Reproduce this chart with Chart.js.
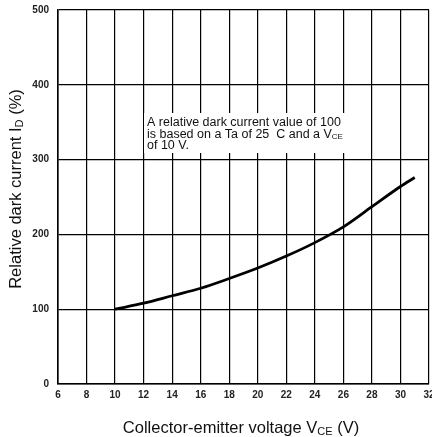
<!DOCTYPE html>
<html>
<head>
<meta charset="utf-8">
<script src="https://cdn.jsdelivr.net/npm/chart.js@4.4.1/dist/chart.umd.min.js"></script>
<style>
  html, body { margin: 0; padding: 0; background: #fff; }
  #wrap { width: 432px; height: 437px; }
</style>
</head>
<body>
<div id="wrap"><canvas id="chart" width="432" height="437"></canvas></div>
<script>
// collector-emitter voltage (V) vs relative dark current (%)
const voltage = [10, 12, 14, 16, 18, 20, 22, 24, 26, 28, 30, 31];
const darkCurrent = [100, 108, 118, 128, 141, 155, 171, 189, 210, 237, 264, 276];

const xTicks = [6, 8, 10, 12, 14, 16, 18, 20, 22, 24, 26, 28, 30, 32];
const yTicks = [0, 100, 200, 300, 400, 500];

const noteLines = [
  [["A relative dark current value of 100", false]],
  [["is based on a Ta of 25  C and a V", false], ["CE", true]],
  [["of 10 V.", false]]
];
const xTitle = [["Collector-emitter voltage V", false], ["CE", true], [" (V)", false]];
const yTitle = [["Relative dark current I", false], ["D", true], [" (%)", false]];

function drawRich(ctx, parts, x, y, size, align) {
  const big = size + "px 'Liberation Sans', Arial, sans-serif";
  const small = Math.round(size * 0.66) + "px 'Liberation Sans', Arial, sans-serif";
  let total = 0;
  parts.forEach(p => {
    ctx.font = p[1] ? small : big;
    total += ctx.measureText(p[0]).width;
  });
  let cx = align === "center" ? x - total / 2 : x;
  ctx.textAlign = "left";
  ctx.textBaseline = "alphabetic";
  parts.forEach(p => {
    ctx.font = p[1] ? small : big;
    ctx.fillText(p[0], cx, p[1] ? y + size * 0.12 : y);
    cx += ctx.measureText(p[0]).width;
  });
}

const textPlugin = {
  id: "textPlugin",
  beforeDatasetsDraw(chart) {
    const ctx = chart.ctx;
    ctx.save();
    // white box behind the note
    ctx.fillStyle = "#fff";
    ctx.fillRect(144, 113, 202, 40);
    ctx.fillStyle = "#111";
    noteLines.forEach((line, i) => {
      drawRich(ctx, line, 147, 126 + i * 11.5, 12.5, "left");
    });
    ctx.restore();
  },
  afterDraw(chart) {
    const ctx = chart.ctx;
    ctx.save();
    ctx.fillStyle = "#111";
    drawRich(ctx, xTitle, 241, 433, 16.5, "center");
    ctx.translate(21, 189);
    ctx.rotate(-Math.PI / 2);
    drawRich(ctx, yTitle, 0, 0, 16.5, "center");
    ctx.restore();
  }
};

new Chart(document.getElementById("chart"), {
  type: "line",
  data: {
    datasets: [{
      data: voltage.map((v, i) => ({ x: v, y: darkCurrent[i] })),
      borderColor: "#000",
      borderWidth: 2.8,
      pointRadius: 0,
      cubicInterpolationMode: "monotone",
      fill: false
    }]
  },
  options: {
    responsive: false,
    animation: false,
    layout: { padding: { top: 10, right: 3, left: 0, bottom: 0 } },
    plugins: { legend: { display: false }, tooltip: { enabled: false } },
    scales: {
      x: {
        type: "linear",
        min: xTicks[0], max: xTicks[xTicks.length - 1],
        afterBuildTicks: s => { s.ticks = xTicks.map(v => ({ value: v })); },
        afterFit: s => { s.height = 53; s.paddingLeft = 0; s.paddingRight = 0; },
        ticks: {
          autoSkip: false,
          maxRotation: 0,
          color: "#222",
          padding: 5,
          font: { family: "'Liberation Sans', Arial", size: 10, weight: "bold" }
        },
        grid: { color: "#000", lineWidth: 1.2, drawTicks: false },
        border: { color: "#000", width: 1.6 }
      },
      y: {
        min: yTicks[0], max: yTicks[yTicks.length - 1],
        afterBuildTicks: s => { s.ticks = yTicks.map(v => ({ value: v })); },
        afterFit: s => { s.width = 58; s.paddingTop = 0; s.paddingBottom = 0; },
        ticks: {
          autoSkip: false,
          color: "#222",
          padding: 9,
          font: { family: "'Liberation Sans', Arial", size: 10, weight: "bold" }
        },
        grid: { color: "#000", lineWidth: 1.2, drawTicks: false },
        border: { color: "#000", width: 1.6 }
      }
    }
  },
  plugins: [textPlugin]
});
</script>
</body>
</html>
